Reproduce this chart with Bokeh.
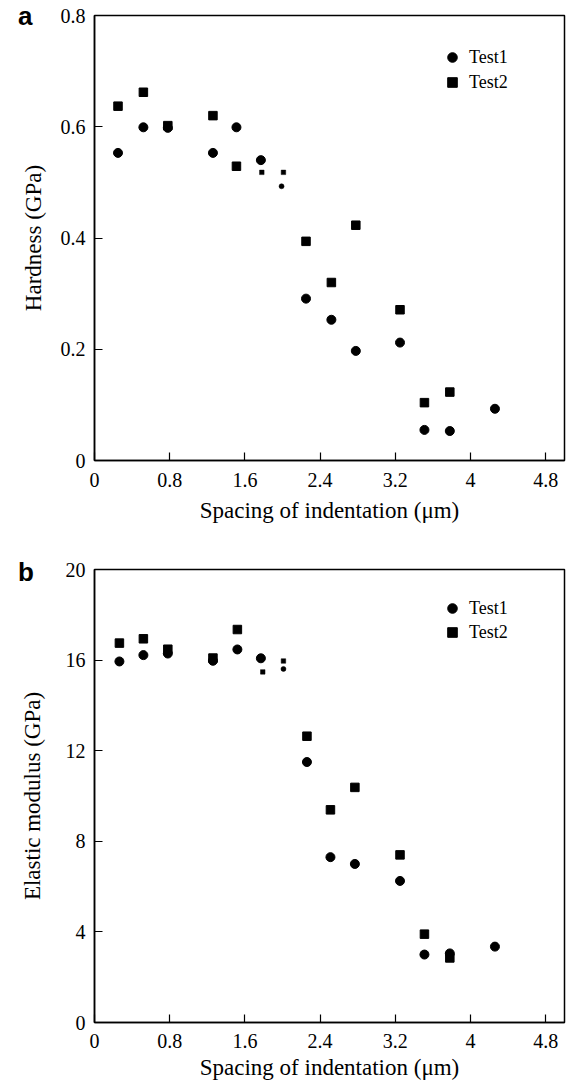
from bokeh.plotting import figure
from bokeh.layouts import column
from bokeh.models import Range1d, FixedTicker, Label, Legend, LegendItem
from bokeh.embed import file_html
from bokeh.resources import INLINE

# ---- data ----
spacing_ticks = [0, 0.8, 1.6, 2.4, 3.2, 4.0, 4.8]
spacing_tick_labels = ["0", "0.8", "1.6", "2.4", "3.2", "4", "4.8"]
hard_ticks = [0, 0.2, 0.4, 0.6, 0.8]
hard_tick_labels = ["0", "0.2", "0.4", "0.6", "0.8"]
mod_ticks = [0, 4, 8, 12, 16, 20]
mod_tick_labels = ["0", "4", "8", "12", "16", "20"]

# Hardness (GPa)
h1_x = [0.25, 0.52, 0.78, 1.26, 1.51, 1.77, 2.25, 2.52, 2.78, 3.25, 3.51, 3.78, 4.26]
h1_y = [0.553, 0.599, 0.598, 0.553, 0.599, 0.540, 0.291, 0.253, 0.197, 0.212, 0.055, 0.053, 0.093]
h1_small_x = [1.99]
h1_small_y = [0.493]
h2_x = [0.25, 0.52, 0.78, 1.26, 1.51, 2.25, 2.52, 2.78, 3.25, 3.51, 3.78]
h2_y = [0.637, 0.662, 0.602, 0.620, 0.529, 0.394, 0.320, 0.423, 0.271, 0.104, 0.123]
h2_small_x = [1.78, 2.01]
h2_small_y = [0.518, 0.518]

# Elastic modulus (GPa)
e1_x = [0.265, 0.52, 0.78, 1.26, 1.52, 1.77, 2.26, 2.51, 2.77, 3.25, 3.51, 3.78, 4.26]
e1_y = [15.94, 16.22, 16.29, 15.97, 16.47, 16.08, 11.5, 7.3, 7.0, 6.25, 3.0, 3.05, 3.35]
e1_small_x = [2.01]
e1_small_y = [15.61]
e2_x = [0.265, 0.52, 0.78, 1.26, 1.52, 2.26, 2.51, 2.77, 3.25, 3.51, 3.78]
e2_y = [16.75, 16.94, 16.48, 16.09, 17.35, 12.64, 9.39, 10.38, 7.40, 3.9, 2.85]
e2_small_x = [1.79, 2.01]
e2_small_y = [15.48, 15.96]

SERIF = "Liberation Serif"


def make_panel(letter, ylabel, yend, yticks, ylabels, s1x, s1y, s1sx, s1sy,
               s2x, s2y, s2sx, s2sy, height, top, bottom, ylab_standoff,
               x_standoff, xlab_standoff, legend_loc, legend_spacing,
               letter_x, letter_y):
    p = figure(width=566, height=height, x_range=Range1d(0, 5.0),
               y_range=Range1d(0, yend), output_backend="svg",
               toolbar_location=None, min_border_left=93, min_border_right=2,
               min_border_top=top, min_border_bottom=bottom)
    p.grid.visible = False
    p.outline_line_color = "black"
    p.outline_line_width = 1.5
    p.background_fill_color = "white"
    p.border_fill_color = "white"

    for ax in (p.xaxis[0], p.yaxis[0]):
        ax.axis_line_width = 1.5
        ax.axis_line_color = "black"
        ax.major_tick_in = 8
        ax.major_tick_out = 0
        ax.major_tick_line_width = 1.2
        ax.minor_tick_line_color = None
        ax.major_label_text_font = SERIF
        ax.major_label_text_font_size = "20px"
        ax.major_label_text_color = "black"
        ax.axis_label_text_font = SERIF
        ax.axis_label_text_font_size = "23px"
        ax.axis_label_text_font_style = "normal"
        ax.axis_label_text_color = "black"

    p.xaxis.ticker = FixedTicker(ticks=spacing_ticks)
    p.xaxis.major_label_overrides = dict(zip(spacing_ticks, spacing_tick_labels))
    p.xaxis.axis_label = "Spacing of indentation (\u03bcm)"
    p.xaxis.major_label_standoff = x_standoff
    p.xaxis.axis_label_standoff = xlab_standoff

    p.yaxis.ticker = FixedTicker(ticks=yticks)
    p.yaxis.major_label_overrides = dict(zip(yticks, ylabels))
    p.yaxis.axis_label = ylabel
    p.yaxis.major_label_standoff = 9
    p.yaxis.axis_label_standoff = ylab_standoff

    r1 = p.scatter(s1x, s1y, marker="circle", size=9, fill_color="black",
                   line_color="black", line_width=1)
    p.scatter(s1sx, s1sy, marker="circle", size=5, fill_color="black",
              line_color="black", line_width=0.5)
    r2 = p.scatter(s2x, s2y, marker="square", size=8.5, fill_color="black",
                   line_color="black", line_width=1)
    p.scatter(s2sx, s2sy, marker="square", size=4.5, fill_color="black",
              line_color="black", line_width=0.5)

    legend = Legend(items=[LegendItem(label="Test1", renderers=[r1]),
                           LegendItem(label="Test2", renderers=[r2])],
                    location=legend_loc, glyph_width=24, glyph_height=24,
                    label_height=24, spacing=legend_spacing, padding=0, margin=0,
                    label_standoff=5, border_line_color=None,
                    background_fill_alpha=0, label_text_font=SERIF,
                    label_text_font_size="18px", label_text_color="black")
    p.add_layout(legend)

    # panel letter: placed in the left side panel (centre annotations are
    # clipped to the frame); positioned in data units
    p.add_layout(Label(x=letter_x, y=letter_y, text=letter,
                       text_font="Liberation Sans",
                       text_font_style="bold", text_font_size="26px",
                       text_baseline="alphabetic", text_color="black"), "left")
    return p


pa = make_panel("a", "Hardness (GPa)", 0.8, hard_ticks, hard_tick_labels,
                h1_x, h1_y, h1_small_x, h1_small_y,
                h2_x, h2_y, h2_small_x, h2_small_y,
                height=540, top=15, bottom=80, ylab_standoff=12,
                x_standoff=12, xlab_standoff=8, legend_loc=(346, 366),
                legend_spacing=1, letter_x=-0.815, letter_y=0.799)

pb = make_panel("b", "Elastic modulus (GPa)", 20, mod_ticks, mod_tick_labels,
                e1_x, e1_y, e1_small_x, e1_small_y,
                e2_x, e2_y, e2_small_x, e2_small_y,
                height=544, top=29, bottom=62, ylab_standoff=18,
                x_standoff=11, xlab_standoff=4, legend_loc=(346, 378),
                legend_spacing=0, letter_x=-0.815, letter_y=19.9)

layout = column(pa, pb, spacing=0)
open("out.html", "w").write(file_html(layout, INLINE))
